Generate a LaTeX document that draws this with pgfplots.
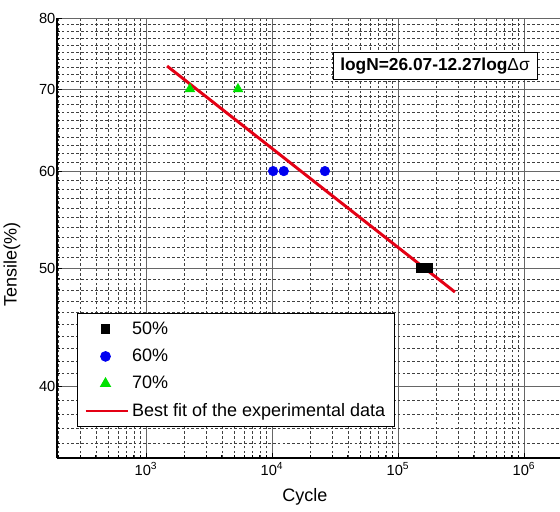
\documentclass[border=0pt]{standalone}
\usepackage{fontspec}
\setmainfont{Liberation Sans}
\usepackage{pgfplots}
\pgfplotsset{compat=1.18}
\definecolor{fitred}{RGB}{228,0,20}
\definecolor{ptgreen}{RGB}{0,225,0}
\definecolor{ptblue}{RGB}{0,0,240}
\pgfplotsset{
  markleg/.style={legend image code/.code={\draw[##1] plot coordinates {(15pt,0pt)};}},
  lineleg/.style={legend image code/.code={\draw[##1, line width=1.8pt] (0pt,0pt) -- (32pt,0pt);}},
}
\begin{document}
\begin{tikzpicture}
\useasboundingbox (-42.75pt,-39.75pt) rectangle (377.25pt,343.5pt);
\begin{axis}[
  at={(0,0)}, anchor=south west,
  scale only axis, width=377.25pt, height=330pt,
  xmode=log, ymode=log,
  xmin=196.7, xmax=1.93e6, ymin=35, ymax=80,
  axis lines=left, axis line style={-, line width=1pt, black},
  xtick={1e3,1e4,1e5,1e6},
  xticklabels={10\textsuperscript{3},10\textsuperscript{4},10\textsuperscript{5},10\textsuperscript{6}},
  minor xtick={200,300,400,500,600,700,800,900,
    2000,3000,4000,5000,6000,7000,8000,9000,
    20000,30000,40000,50000,60000,70000,80000,90000,
    200000,300000,400000,500000,600000,700000,800000,900000},
  ytick={40,50,60,70,80},
  yticklabels={40,50,60,70,80},
  minor ytick={35,36,37,38,39,41,42,43,44,45,46,47,48,49,
    51,52,53,54,55,56,57,58,59,61,62,63,64,65,66,67,68,69,
    71,72,73,74,75,76,77,78,79},
  grid=both,
  major grid style={black!60, line width=0.6pt},
  minor grid style={black!75, line width=0.4pt, dash pattern=on 2pt off 1.6pt},
  tick align=inside,
  major tick length=4pt, minor tick length=2.5pt,
  tick style={black, line width=0.6pt},
  tick label style={font=\fontsize{11}{13}\selectfont},
  yticklabel style={inner xsep=1pt},
  xlabel={Cycle},
  ylabel={Tensile(\%)},
  label style={font=\fontsize{13.5}{16}\selectfont},
  xlabel style={at={(axis description cs:0.493,-0.0886)}, anchor=center},
  ylabel style={at={(axis description cs:-0.0895,0.439)}, anchor=center},
  legend style={at={(0.04,0.07)}, anchor=south west, draw=black,
    line width=0.8pt, fill=white, font=\fontsize{13.5}{16}\selectfont,
    row sep=5.5pt, inner xsep=5pt, inner ysep=4pt},
  legend cell align=left,
]
% 50% load level
\addplot[only marks, mark=square*, mark size=3.3pt, black, markleg]
  coordinates {(152000,50)(173000,50)};
\addlegendentry{50\%}
% 60% load level
\addplot[only marks, mark=*, mark size=3.6pt, ptblue, markleg]
  coordinates {(10200,60)(12400,60)(26300,60)};
\addlegendentry{60\%}
% 70% load level
\addplot[only marks, mark=triangle*, mark size=4.2pt, ptgreen, markleg]
  coordinates {(2230,70)(5370,70)};
\addlegendentry{70\%}
% fitted S-N line
\addplot[fitred, line width=2.2pt, lineleg]
  coordinates {(1470,73.1)(283000,47.8)};
\addlegendentry{Best fit of the experimental data}
\node[draw=black, line width=0.6pt, fill=white, inner xsep=5.5pt, inner ysep=4pt,
  font=\bfseries\fontsize{13}{15}\selectfont]
  at (rel axis cs:0.7515,0.891) {logN=26.07-12.27log{\mdseries Δσ}};
\end{axis}
\end{tikzpicture}
\end{document}
